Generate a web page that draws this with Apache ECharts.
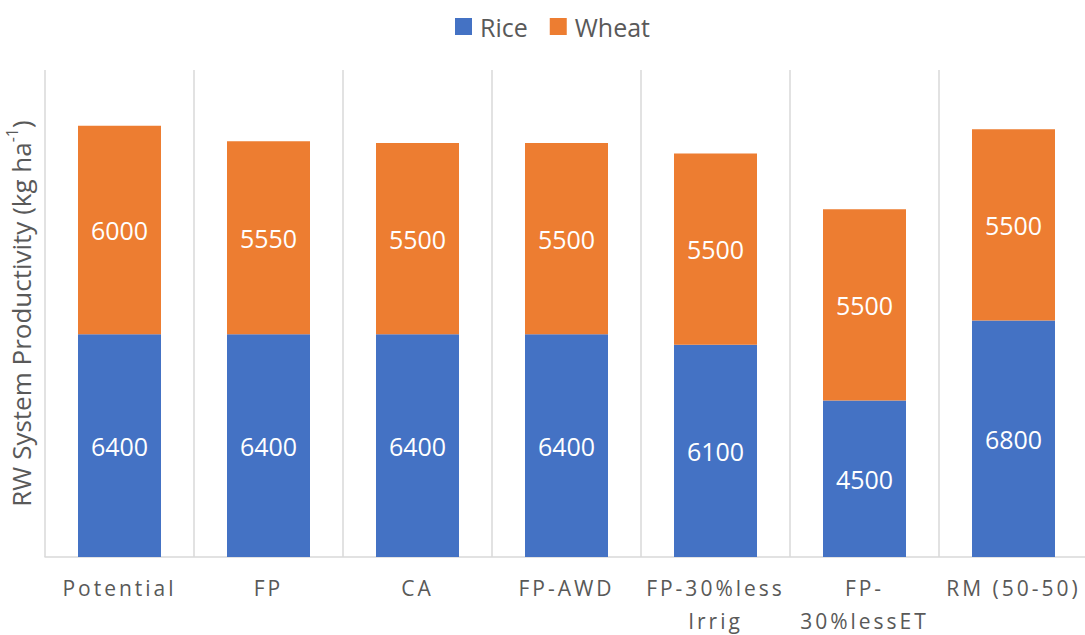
<!DOCTYPE html>
<html>
<head>
<meta charset="utf-8">
<style>
  html, body { margin: 0; padding: 0; background: #fff; }
  #main { width: 1085px; height: 635px; }
  /* x axis labels are letter-spaced in the original */
  #main text[fill="#595958"] { letter-spacing: 3px; }
</style>
<script src="https://cdn.jsdelivr.net/npm/echarts@6/dist/echarts.min.js"></script>
</head>
<body>
<div id="main"></div>
<script>
  var categories = ['Potential', 'FP', 'CA', 'FP-AWD', 'FP-30%less\nIrrig', 'FP-\n30%lessET', 'RM (50-50)'];
  var rice = [6400, 6400, 6400, 6400, 6100, 4500, 6800];
  var wheat = [6000, 5550, 5500, 5500, 5500, 5500, 5500];

  var myChart = echarts.init(document.getElementById('main'), null, { renderer: 'svg' });

  var font = '"Open Sans", sans-serif';
  var barLabel = {
    show: true,
    position: 'inside',
    color: '#fff',
    fontSize: 25,
    fontFamily: font
  };

  var option = {
    animation: false,
    textStyle: { fontFamily: font },
    color: ['#4472C4', '#ED7D31'],
    // 图例
    legend: {
      data: ['Rice', 'Wheat'],
      left: 450,
      top: 9,
      itemWidth: 17,
      itemHeight: 17,
      itemGap: 22,
      icon: 'rect',
      textStyle: { color: '#595959', fontSize: 25, fontFamily: font, padding: [0, 0, 0, 3] }
    },
    grid: { left: 45, width: 1043, top: 70, bottom: 78, containLabel: false, outerBoundsMode: 'none' },
    xAxis: {
      type: 'category',
      data: categories,
      axisTick: { show: false },
      axisLine: { lineStyle: { color: '#d9d9d9', width: 1.5 } },
      splitLine: { show: true, lineStyle: { color: '#d9d9d9', width: 1.5 } },
      axisLabel: {
        color: '#595958',
        fontSize: 21,
        fontFamily: font,
        lineHeight: 33,
        margin: 14,
        interval: 0
      }
    },
    yAxis: {
      type: 'value',
      min: 0,
      max: 14000,
      name: 'RW System Productivity (kg ha{sup|-1})',
      nameLocation: 'middle',
      nameGap: 7,
      nameTextStyle: {
        color: '#595959',
        fontSize: 26,
        fontFamily: font,
        rich: {
          sup: { fontSize: 16, fontFamily: font, color: '#595959', verticalAlign: 'top', lineHeight: 34 }
        }
      },
      axisLabel: { show: false },
      axisLine: { show: false },
      axisTick: { show: false },
      splitLine: { show: false }
    },
    series: [
      { name: 'Rice', type: 'bar', stack: 'rw', barWidth: 83, data: rice, label: barLabel },
      { name: 'Wheat', type: 'bar', stack: 'rw', barWidth: 83, data: wheat, label: barLabel }
    ]
  };

  myChart.setOption(option);
</script>
</body>
</html>
